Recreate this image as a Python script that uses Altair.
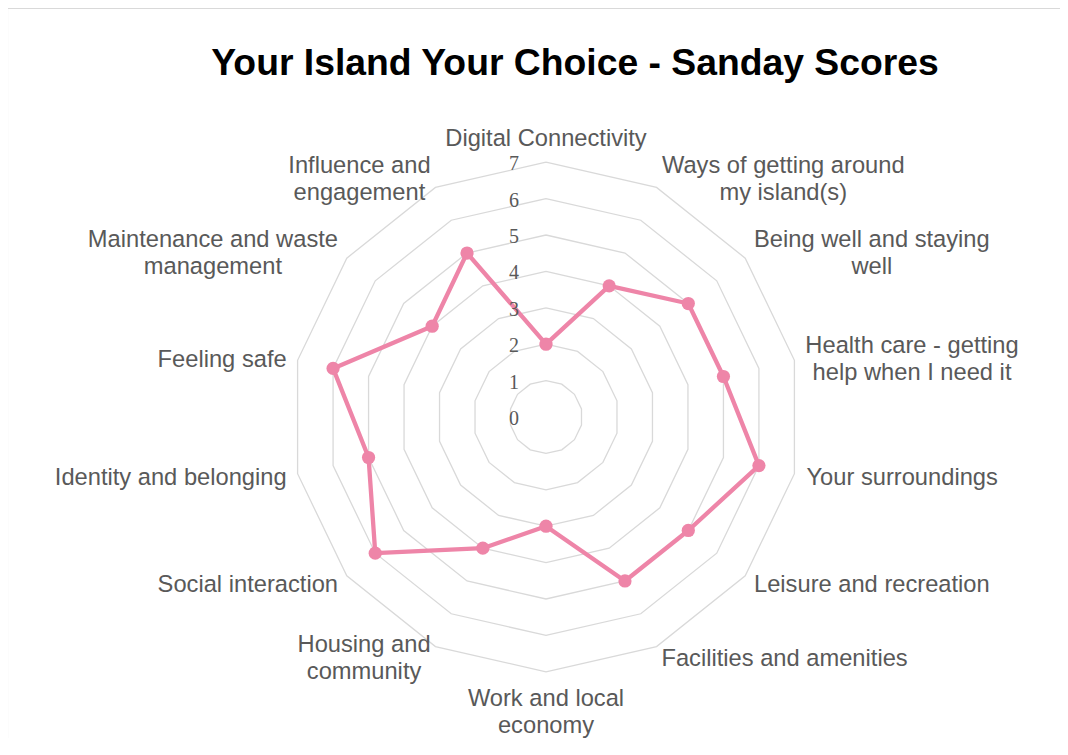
import math
import altair as alt
import pandas as pd

# ---------------- data ----------------
title_text = "Your Island Your Choice - Sanday Scores"
categories = [
    "Digital Connectivity",
    "Ways of getting around\nmy island(s)",
    "Being well and staying\nwell",
    "Health care - getting\nhelp when I need it",
    "Your surroundings",
    "Leisure and recreation",
    "Facilities and amenities",
    "Work and local\neconomy",
    "Housing and\ncommunity",
    "Social interaction",
    "Identity and belonging",
    "Feeling safe",
    "Maintenance and waste\nmanagement",
    "Influence and\nengagement",
]
scores = [2, 4, 5, 5, 6, 5, 5, 3, 4, 6, 5, 6, 4, 5]
ticks = [0, 1, 2, 3, 4, 5, 6, 7]

# ---------------- layout ----------------
N = len(categories)
UNIT = 36.4            # px per score unit
W, H = 1052, 730       # view size
CX, CY = 538, 409      # centre of the radar in view px
LABEL_FONT = 23.7
LINE_H = 27
LABEL_R = 266 / UNIT   # label anchor radius (score units)
PINK = "#EE85A8"
GRID = "#D9D9D9"
TEXT = "#595959"

xscale = alt.Scale(domain=[-CX / UNIT, (W - CX) / UNIT], nice=False, zero=False)
yscale = alt.Scale(domain=[-(H - CY) / UNIT, CY / UNIT], nice=False, zero=False)
noaxis = None

# Arial width table (em) used to centre multi-line labels on their anchor
AW = {" ": .278, "-": .333, "(": .333, ")": .333,
      "a": .556, "b": .556, "c": .5, "d": .556, "e": .556, "f": .278, "g": .556,
      "h": .556, "i": .222, "j": .222, "k": .5, "l": .222, "m": .833, "n": .556,
      "o": .556, "p": .556, "q": .556, "r": .333, "s": .5, "t": .278, "u": .556,
      "v": .5, "w": .722, "x": .5, "y": .5, "z": .5,
      "B": .667, "D": .722, "F": .611, "H": .722, "I": .278, "L": .556,
      "M": .833, "S": .667, "W": .944, "Y": .667, "C": .722}


def text_w(s):
    return max(sum(AW.get(ch, .556) for ch in line) for line in s.split("\n")) * LABEL_FONT


# series (closed polygon)
ser = pd.DataFrame({"idx": list(range(N)) + [N],
                    "value": scores + [scores[0]]})

# grid polygons
grid = pd.DataFrame([{"level": lv, "idx": k} for lv in ticks[1:] for k in range(N + 1)])

# tick labels
tk = pd.DataFrame({"t": ticks})

# category labels
rows = []
for k, cat in enumerate(categories):
    a = 2 * math.pi * k / N
    s, c = math.sin(a), math.cos(a)
    ax, ay = LABEL_R * s, LABEL_R * c
    nlines = cat.count("\n") + 1
    if abs(s) < 1e-6:
        pos = "top" if c > 0 else "bottom"
        x, y = ax, ay
    else:
        pos = "side"
        x = ax + math.copysign(text_w(cat) / 2 / UNIT, s)
        y = ay + (nlines - 1) * LINE_H / 2 / UNIT
    rows.append({"label": cat, "lx": x, "ly": y, "pos": pos})
lab = pd.DataFrame(rows)

ang = f"2*PI*datum.idx/{N}"

grid_layer = alt.Chart(grid).transform_calculate(
    gx=f"datum.level*sin({ang})", gy=f"datum.level*cos({ang})"
).mark_line(color=GRID, strokeWidth=1.3).encode(
    x=alt.X("gx:Q", scale=xscale, axis=noaxis),
    y=alt.Y("gy:Q", scale=yscale, axis=noaxis),
    detail="level:N",
    order="idx:Q",
)

line_layer = alt.Chart(ser).transform_calculate(
    px=f"datum.value*sin({ang})", py=f"datum.value*cos({ang})"
).mark_line(color=PINK, strokeWidth=4.3, strokeJoin="round").encode(
    x=alt.X("px:Q", scale=xscale, axis=noaxis),
    y=alt.Y("py:Q", scale=yscale, axis=noaxis),
    order="idx:Q",
)

pt_layer = alt.Chart(ser).transform_filter(f"datum.idx < {N}").transform_calculate(
    px=f"datum.value*sin({ang})", py=f"datum.value*cos({ang})"
).mark_circle(color=PINK, size=175, opacity=1).encode(
    x=alt.X("px:Q", scale=xscale, axis=noaxis),
    y=alt.Y("py:Q", scale=yscale, axis=noaxis),
)

tick_layer = alt.Chart(tk).transform_calculate(zero="0").mark_text(
    align="right", baseline="middle", dx=-27, dy=2,
    font="Liberation Serif", fontSize=20, color=TEXT,
).encode(
    x=alt.X("zero:Q", scale=xscale, axis=noaxis),
    y=alt.Y("t:Q", scale=yscale, axis=noaxis),
    text="t:Q",
)


def label_layer(pos, baseline, dy):
    return alt.Chart(lab).transform_filter(f"datum.pos == '{pos}'").mark_text(
        align="center", baseline=baseline, lineBreak="\n", lineHeight=LINE_H,
        font="Liberation Sans", fontSize=LABEL_FONT, color=TEXT, dy=dy,
    ).encode(
        x=alt.X("lx:Q", scale=xscale, axis=noaxis),
        y=alt.Y("ly:Q", scale=yscale, axis=noaxis),
        text="label:N",
    )


title_layer = alt.Chart(pd.DataFrame({"title": [title_text]})).mark_text(
    align="center", baseline="alphabetic", font="Liberation Sans",
    fontSize=37.3, fontWeight="bold", color="black",
).encode(x=alt.value(567), y=alt.value(67), text="title:N")

frame_left = alt.Chart(pd.DataFrame({"a": [0]})).mark_rule(color=GRID, strokeWidth=1.2).encode(
    x=alt.value(-0.5), y=alt.value(0.5), y2=alt.value(H + 20))
frame_top = alt.Chart(pd.DataFrame({"a": [0]})).mark_rule(color=GRID, strokeWidth=1.2).encode(
    y=alt.value(0.5), x=alt.value(-0.5), x2=alt.value(W + 20))

chart = alt.layer(
    frame_left, frame_top,
    grid_layer, line_layer, pt_layer, tick_layer,
    label_layer("top", "bottom", 0), label_layer("bottom", "top", 4),
    label_layer("side", "middle", 2),
    title_layer,
).properties(
    width=W, height=H, padding=0, autosize=alt.AutoSizeParams(type="none"),
    background="white",
).configure_view(stroke=None)

chart.save("out.html", embed_options={"renderer": "svg", "actions": False})
